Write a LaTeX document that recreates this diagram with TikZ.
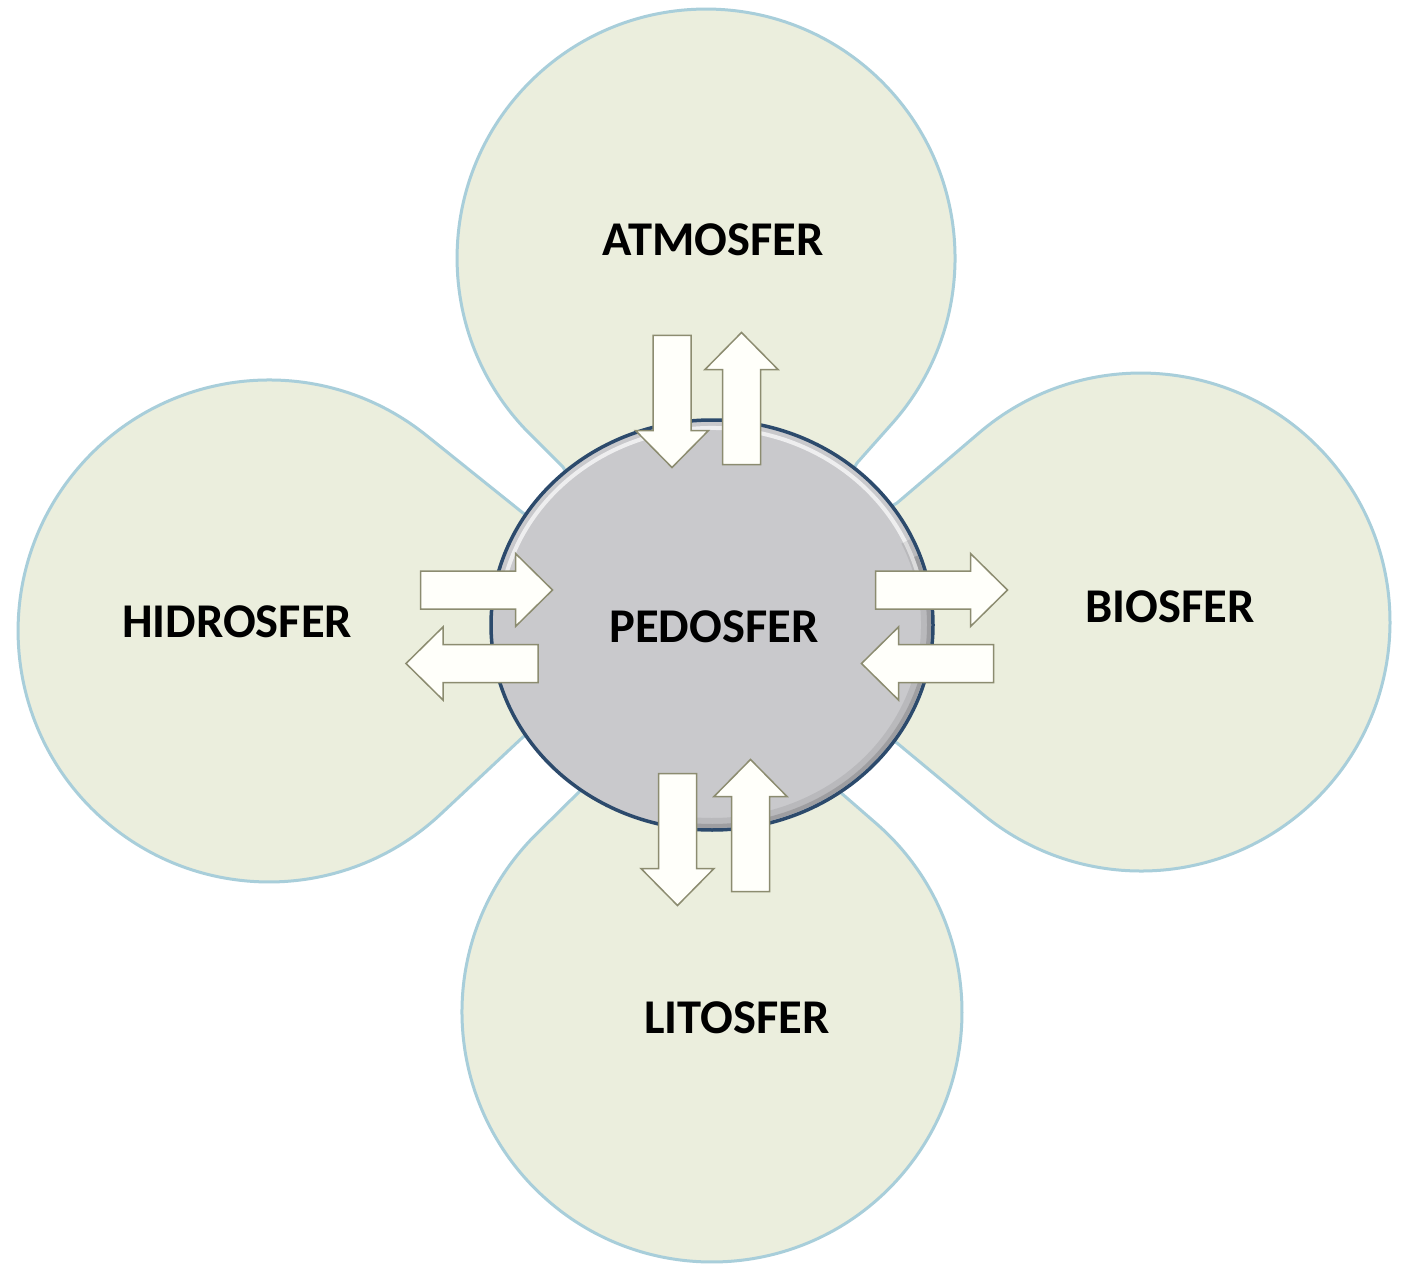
\documentclass[tikz,border=0pt]{standalone}
\usepackage{fontspec}
\setmainfont{Carlito}
\definecolor{petalfill}{RGB}{235,238,221}
\definecolor{petalline}{RGB}{168,206,218}
\definecolor{centerfill}{RGB}{201,201,204}
\definecolor{centerline}{RGB}{44,74,108}
\definecolor{arrowfill}{RGB}{255,255,250}
\definecolor{arrowline}{RGB}{140,140,112}
\tikzset{
  petal/.style={fill=petalfill, draw=petalline, line width=3pt, line join=round},
  blockarrow/.style={fill=arrowfill, draw=arrowline, line width=1.5pt, line join=miter},
  sphere/.style={font=\bfseries\fontsize{48.5}{52}\selectfont, text=black, inner sep=0pt},
  blockarr/.pic={\path[blockarrow] (-66,-19) -- (29,-19) -- (29,-36.5) -- (66,0) -- (29,36.5) -- (29,19) -- (-66,19) -- cycle;}
}
\begin{document}
\begin{tikzpicture}[x=1pt,y=-1pt]
\useasboundingbox (0,0) rectangle (1403,1273);
\fill[white] (0,0) rectangle (1403,1273);

% petals: circle plus tangent neck to the centre sphere
\path[petal] (640,600) -- (563,467) -- (530.3,434.4)
  arc[start angle=225.1, end angle=-41.6, radius=249pt]
  -- (857,463) -- (780,600) -- cycle;
\path[petal] (800,560) -- (897,503) -- (979.3,432.7)
  arc[start angle=130.5, end angle=-129.7, radius=249pt]
  -- (897,743) -- (800,690) -- cycle;
\path[petal] (620,560) -- (523,513) -- (426,435.1)
  arc[start angle=51.3, end angle=313.15, radius=251pt]
  -- (523,737) -- (620,690) -- cycle;
\path[petal] (800,700) -- (840,792) -- (876,823.3)
  arc[start angle=49, end angle=-225.4, radius=250pt]
  -- (582,789) -- (620,700) -- cycle;

% centre sphere
\path[fill=centerfill] (712,625) ellipse [x radius=221pt, y radius=205pt];
\draw[white, opacity=0.7, line width=4pt] (712,625) ++(165:213pt and 197pt)
  arc[start angle=165, end angle=15, x radius=213pt, y radius=197pt];
\draw[black, opacity=0.08, line width=10pt] (712,625) ++(25:214pt and 198pt)
  arc[start angle=25, end angle=-100, x radius=214pt, y radius=198pt];
\draw[black, opacity=0.14, line width=4pt] (712,625) ++(20:217pt and 201pt)
  arc[start angle=20, end angle=-95, x radius=217pt, y radius=201pt];
\draw[centerline, line width=3.5pt] (712,625) ellipse [x radius=221pt, y radius=205pt];

% block arrows
\pic (atmIn)  [rotate=-90] at (672,401.5) {blockarr};
\pic (atmOut) [rotate=90]  at (741.5,398.5) {blockarr};
\pic (hidIn)               at (486.5,590) {blockarr};
\pic (hidOut) [rotate=180] at (472,663.5) {blockarr};
\pic (bioOut)              at (941.5,590) {blockarr};
\pic (bioIn)  [rotate=180] at (927.5,663.5) {blockarr};
\pic (litOut) [rotate=-90] at (677.5,839.5) {blockarr};
\pic (litIn)  [rotate=90]  at (750.5,825.5) {blockarr};

% labels
\node[sphere] (atmosfer)  at (713,240)  {ATMOSFER};
\node[sphere] (hidrosfer) at (237,622)  {HIDROSFER};
\node[sphere] (pedosfer)  at (714,627)  {PEDOSFER};
\node[sphere] (biosfer)   at (1170,607) {BIOSFER};
\node[sphere] (litosfer)  at (737,1018) {LITOSFER};
\end{tikzpicture}
\end{document}
